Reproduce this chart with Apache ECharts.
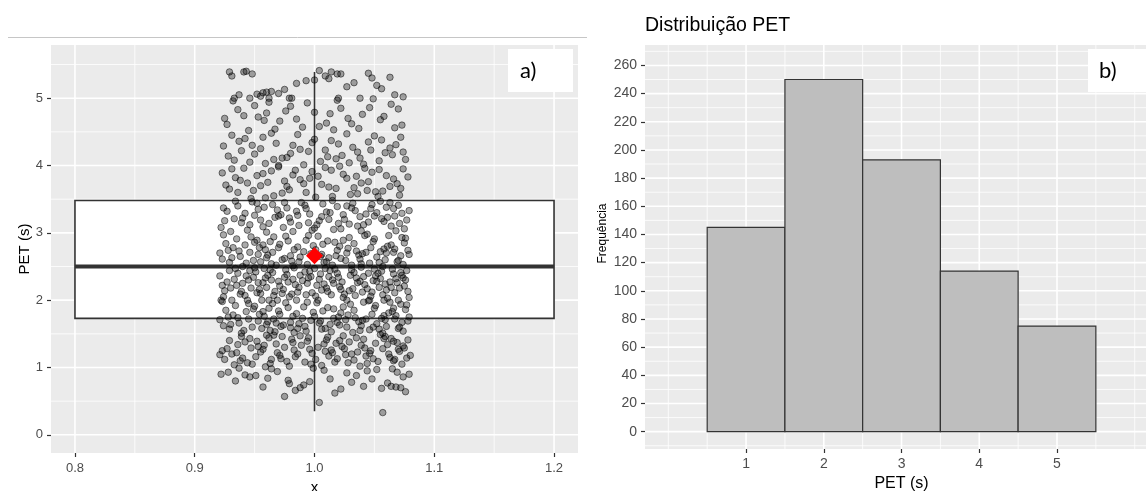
<!DOCTYPE html>
<html><head><meta charset="utf-8">
<script src="https://cdn.jsdelivr.net/npm/echarts@6/dist/echarts.min.js"></script>
<style>html,body{margin:0;padding:0;background:#fff}#c{width:1146px;height:491px}</style>
</head><body><div id="c"></div>
<script>
// ================= DATA =================
// Panel a) boxplot + jitter
const boxX = [0.8, 1.2];                              // box extent on x
const boxStats = [0.35, 1.73, 2.50, 3.48, 5.39];      // lower whisker, Q1, median, Q3, upper whisker
const meanPET = [1.0, 2.66];                          // red diamond (mean)
const xTicksA = [0.8, 0.9, 1.0, 1.1, 1.2];
const xTickLabelsA = ['0.8', '0.9', '1.0', '1.1', '1.2'];
const xMinorA = [0.85, 0.95, 1.05, 1.15];
const yTicksA = [0, 1, 2, 3, 4, 5];
const yMinorA = [0.5, 1.5, 2.5, 3.5, 4.5, 5.5];
const jitterPoints = [
[1.057,0.33],[1.004,0.48],
[0.922,0.90],[0.928,0.93],[0.942,0.89],[0.946,0.86],[0.951,0.88],[0.969,0.94],[0.978,0.81],[0.979,0.76],[0.984,0.66],[0.988,0.70],
[0.991,0.74],[0.996,0.79],[1.041,0.72],[1.048,0.83],[1.056,0.69],[1.061,0.77],[1.064,0.72],[1.068,0.71],[1.072,0.70],[1.074,0.86],
[1.069,0.93],[1.052,0.97],[1.035,0.88],[1.027,0.92],[1.013,0.83],[1.008,0.96],[0.964,0.98],[0.957,0.71],[0.937,0.99],[1.017,0.62],
[1.076,0.64],[0.975,0.57],[1.031,0.78],[0.999,0.99],[1.044,0.95],[0.934,0.80],[1.065,0.98],[1.022,0.68],[0.961,0.84],[1.079,0.90],
[0.925,1.12],[0.931,1.20],[0.944,1.07],[0.953,1.31],[0.962,1.44],[0.971,1.18],[0.983,1.26],[0.994,1.39],[1.006,1.03],[1.015,1.22],
[1.024,1.47],[1.033,1.11],[1.042,1.29],[1.051,1.36],[1.063,1.15],[1.071,1.24],[1.078,1.41],[0.921,1.19],[0.936,1.34],[0.948,1.05],
[0.957,1.27],[0.966,1.48],[0.977,1.09],[0.989,1.33],[0.998,1.21],[1.011,1.45],[1.019,1.13],[1.029,1.38],[1.038,1.02],[1.047,1.25],
[1.058,1.43],[1.066,1.10],[1.074,1.32],[0.927,1.28],[0.939,1.46],[0.951,1.16],[0.959,1.01],[0.968,1.35],[0.981,1.42],[0.992,1.08],
[1.003,1.30],[1.012,1.17],[1.021,1.40],[1.036,1.23],[1.044,1.06],[1.055,1.49],[1.062,1.20],[1.069,1.37],[1.077,1.14],[0.933,1.04],
[0.942,1.38],[0.955,1.23],[0.964,1.12],[0.973,1.46],[0.986,1.20],[0.996,1.27],[1.008,1.35],[1.017,1.08],[1.026,1.19],[1.035,1.44],
[1.049,1.13],[1.057,1.28],[1.066,1.39],[1.073,1.05],[0.923,1.25],[0.946,1.43],[0.958,1.33],[0.969,1.22],[0.979,1.02],[0.988,1.47],
[1.001,1.12],[1.014,1.26],[1.023,1.31],[1.031,1.20],[1.041,1.42],[1.053,1.09],[1.061,1.34],[1.070,1.27],[1.080,1.18],[0.929,1.40],
[0.940,1.14],[0.952,1.39],[0.963,1.06],[0.975,1.30],[0.984,1.16],[0.995,1.44],[1.009,1.24],[1.018,1.36],[1.028,1.07],[1.039,1.33],
[1.046,1.21],[1.059,1.46],[1.067,1.12],[1.075,1.29],[0.935,1.22],[0.947,1.29],[0.960,1.48],[0.972,1.13],[0.982,1.37],[0.997,1.05],
[1.010,1.41],[1.025,1.28],[1.043,1.17],[1.064,1.43],[0.938,1.10],
[0.924,1.62],[0.932,1.78],[0.941,1.55],[0.950,1.91],[0.961,1.68],[0.970,1.84],[0.980,1.59],[0.990,1.73],[1.002,1.96],[1.013,1.64],
[1.022,1.81],[1.032,1.52],[1.040,1.70],[1.050,1.88],[1.060,1.61],[1.068,1.77],[1.077,1.93],[0.926,1.85],[0.937,1.66],[0.945,1.72],
[0.956,1.58],[0.965,1.95],[0.974,1.63],[0.985,1.80],[0.993,1.54],[1.005,1.69],[1.016,1.87],[1.027,1.60],[1.034,1.74],[1.045,1.99],
[1.054,1.57],[1.065,1.83],[1.073,1.67],[0.921,1.71],[0.934,1.92],[0.948,1.60],[0.958,1.76],[0.967,1.53],[0.978,1.89],[0.987,1.65],
[0.999,1.82],[1.009,1.58],[1.020,1.75],[1.030,1.94],[1.039,1.62],[1.048,1.79],[1.057,1.51],[1.067,1.72],[1.076,1.86],[0.929,1.57],
[0.943,1.83],[0.953,1.69],[0.962,1.88],[0.972,1.61],[0.982,1.76],[0.994,1.97],[1.004,1.66],[1.014,1.53],[1.024,1.90],[1.037,1.68],
[1.046,1.56],[1.056,1.73],[1.063,1.97],[1.071,1.60],[1.079,1.75],[0.923,1.98],[0.936,1.74],[0.949,1.87],[0.960,1.64],[0.971,1.79],
[0.983,1.52],[0.997,1.70],[1.007,1.84],[1.019,1.67],[1.028,1.78],[1.038,1.55],[1.051,1.92],[1.059,1.71],[1.070,1.58],[1.078,1.69],
[0.930,1.64],[0.939,1.51],[0.954,1.79],[0.966,1.72],[0.976,1.96],[0.986,1.58],[1.000,1.76],[1.011,1.89],[1.021,1.63],[1.033,1.85],
[1.043,1.72],[1.052,1.65],[1.062,1.81],[1.072,1.94],[0.928,1.75],[0.945,1.95],[0.963,1.55],[0.980,1.67],[0.991,1.90],[1.006,1.57],
[1.026,1.71],[1.041,1.97],[1.058,1.77],[1.074,1.54],[0.957,1.83],[0.968,1.66],[0.992,1.61],[1.016,1.73],[1.049,1.60],[1.066,1.88],
[0.922,2.00],[0.931,2.00],[0.944,2.00],[0.956,2.00],[0.962,2.00],[0.969,2.00],[0.985,2.00],[1.003,2.00],[1.027,2.00],[1.046,2.00],
[1.058,2.00],[1.070,2.00],[0.925,2.14],[0.933,2.31],[0.942,2.07],[0.951,2.42],[0.960,2.19],[0.970,2.28],[0.979,2.05],[0.988,2.37],
[0.998,2.11],[1.008,2.24],[1.017,2.46],[1.025,2.09],[1.035,2.33],[1.044,2.17],[1.053,2.40],[1.061,2.03],[1.069,2.26],[1.078,2.13],
[0.921,2.36],[0.935,2.22],[0.946,2.44],[0.955,2.10],[0.964,2.30],[0.974,2.16],[0.983,2.48],[0.994,2.25],[1.001,2.06],[1.012,2.35],
[1.021,2.20],[1.031,2.45],[1.040,2.12],[1.049,2.29],[1.057,2.08],[1.066,2.39],[1.075,2.21],[0.927,2.27],[0.938,2.09],[0.949,2.34],
[0.958,2.47],[0.967,2.13],[0.977,2.38],[0.987,2.19],[0.996,2.43],[1.006,2.15],[1.015,2.30],[1.024,2.04],[1.033,2.41],[1.042,2.23],
[1.051,2.36],[1.060,2.15],[1.068,2.32],[1.077,2.44],[0.924,2.05],[0.936,2.40],[0.947,2.18],[0.957,2.26],[0.966,2.07],[0.976,2.45],
[0.986,2.12],[0.995,2.33],[1.005,2.39],[1.014,2.08],[1.023,2.27],[1.032,2.17],[1.041,2.35],[1.050,2.46],[1.059,2.24],[1.067,2.11],
[1.076,2.30],[0.929,2.44],[0.940,2.25],[0.952,2.11],[0.961,2.37],[0.971,2.21],[0.981,2.09],[0.990,2.29],[1.000,2.47],[1.010,2.18],
[1.019,2.40],[1.029,2.14],[1.038,2.28],[1.047,2.06],[1.056,2.43],[1.064,2.19],[1.073,2.37],[0.923,2.22],[0.934,2.47],[0.945,2.30],
[0.954,2.16],[0.965,2.41],[0.975,2.34],[0.984,2.23],[0.993,2.08],[1.004,2.31],[1.013,2.44],[1.022,2.16],[1.030,2.37],[1.039,2.49],
[1.048,2.12],[1.055,2.32],[1.063,2.27],[1.071,2.18],[1.079,2.04],[0.930,2.18],[0.943,2.36],[0.953,2.26],[0.963,2.45],[0.973,2.10],
[0.982,2.31],[0.992,2.42],[1.002,2.22],[1.011,2.13],[1.020,2.34],[1.036,2.26],[1.045,2.40],[1.054,2.19],[1.065,2.46],[1.074,2.33],
[0.939,2.13],[0.959,2.33],[0.978,2.27],[0.997,2.35],[1.016,2.25],[1.034,2.07],[1.052,2.28],[1.072,2.41],[0.950,2.48],[1.009,2.47],
[0.923,2.61],[0.932,2.78],[0.943,2.55],[0.952,2.89],[0.961,2.67],[0.971,2.83],[0.981,2.58],[0.991,2.72],[1.003,2.95],[1.012,2.63],
[1.021,2.80],[1.031,2.52],[1.040,2.69],[1.049,2.87],[1.059,2.60],[1.067,2.76],[1.076,2.92],[0.926,2.84],[0.938,2.65],[0.946,2.71],
[0.955,2.57],[0.966,2.94],[0.975,2.62],[0.986,2.79],[0.994,2.53],[1.006,2.68],[1.017,2.86],[1.026,2.59],[1.035,2.73],[1.044,2.98],
[1.054,2.56],[1.064,2.82],[1.072,2.66],[0.921,2.70],[0.935,2.91],[0.949,2.59],[0.959,2.75],[0.968,2.52],[0.978,2.88],[0.988,2.64],
[0.999,2.81],[1.010,2.57],[1.019,2.74],[1.029,2.93],[1.038,2.61],[1.047,2.78],[1.057,2.50],[1.066,2.71],[1.075,2.85],[0.929,2.56],
[0.942,2.82],[0.953,2.68],[0.963,2.87],[0.973,2.60],[0.983,2.75],[0.995,2.96],[1.005,2.65],[1.015,2.52],[1.024,2.89],[1.037,2.67],
[1.046,2.55],[1.055,2.72],[1.062,2.96],[1.070,2.59],[1.078,2.74],[0.924,2.97],[0.937,2.73],[0.950,2.86],[0.960,2.63],[0.970,2.78],
[0.982,2.51],[0.997,2.69],[1.007,2.83],[1.018,2.66],[1.028,2.77],[1.039,2.54],[1.050,2.91],[1.060,2.70],[1.069,2.57],[1.079,2.68],
[0.931,2.63],[0.940,2.50],[0.954,2.78],[0.965,2.71],[0.976,2.95],[0.987,2.57],[1.001,2.75],[1.011,2.88],[1.022,2.62],[1.033,2.84],
[1.043,2.71],[1.052,2.64],[1.061,2.80],[1.073,2.93],[0.928,2.74],[0.947,2.94],[0.964,2.54],[0.980,2.66],[0.993,2.89],[1.008,2.56],
[1.027,2.70],[1.042,2.96],[1.058,2.76],[1.074,2.53],[0.957,2.82],
[0.922,3.08],[0.933,3.21],[0.944,3.04],[0.953,3.35],[0.962,3.14],[0.972,3.27],[0.982,3.02],[0.992,3.41],[1.004,3.18],[1.013,3.30],
[1.022,3.06],[1.032,3.44],[1.041,3.12],[1.050,3.25],[1.060,3.38],[1.068,3.03],[1.077,3.19],[0.927,3.32],[0.939,3.15],[0.948,3.46],
[0.957,3.09],[0.967,3.23],[0.977,3.37],[0.987,3.11],[0.996,3.28],[1.007,3.43],[1.016,3.05],[1.025,3.20],[1.034,3.33],[1.045,3.16],
[1.055,3.47],[1.064,3.10],[1.073,3.29],[0.925,3.18],[0.936,3.40],[0.950,3.26],[0.960,3.01],[0.969,3.34],[0.979,3.22],[0.989,3.45],
[1.000,3.07],[1.010,3.31],[1.019,3.39],[1.029,3.13],[1.038,3.24],[1.048,3.42],[1.058,3.17],[1.066,3.36],[1.075,3.06],[0.930,3.02],
[0.942,3.29],[0.955,3.19],[0.965,3.42],[0.974,3.08],[0.985,3.32],[0.995,3.15],[1.006,3.24],[1.015,3.48],[1.024,3.27],[1.036,3.10],
[1.047,3.36],[1.056,3.21],[1.063,3.45],[1.071,3.14],[1.079,3.33],[0.934,3.47],[0.946,3.12],[0.958,3.38],[0.970,3.25],[0.980,3.16],
[0.993,3.36],[1.002,3.12],[1.012,3.20],[1.027,3.40],[1.039,3.03],[1.052,3.30],[1.061,3.23],[1.070,3.41],[0.924,3.37],[0.952,3.44],
[0.975,3.45],[0.998,3.04],[1.020,3.14],[1.043,3.28],[1.067,3.25],[0.940,3.22],[0.986,3.26],[1.031,3.37],
[0.926,3.71],[0.934,3.82],[0.941,3.96],[0.949,3.63],[0.957,3.88],[0.966,3.55],[0.975,3.77],[0.984,3.93],[0.993,3.60],[1.003,3.84],
[1.012,3.68],[1.021,3.99],[1.030,3.57],[1.039,3.74],[1.048,3.90],[1.057,3.62],[1.066,3.80],[1.074,3.95],[0.929,3.65],[0.938,3.78],
[0.947,3.51],[0.955,3.70],[0.964,3.92],[0.973,3.59],[0.982,3.86],[0.991,3.73],[1.001,3.53],[1.009,3.97],[1.018,3.66],[1.027,3.81],
[1.036,3.58],[1.045,3.76],[1.054,3.94],[1.063,3.69],[1.071,3.56],[1.078,3.83],[0.923,3.89],[0.936,3.60],[0.952,3.85],[0.961,3.75],
[0.970,3.98],[0.979,3.64],[0.988,3.79],[0.998,3.91],[1.006,3.72],[1.015,3.54],[1.024,3.87],[1.033,3.67],[1.042,3.96],[1.051,3.61],
[1.060,3.85],[1.069,3.73],[0.944,3.74],[0.959,3.52],[0.977,3.69],[0.996,3.81],[1.014,3.93],[1.035,3.84],[1.053,3.54],[1.072,3.66],
[0.931,3.95],[1.044,3.63],
[0.924,4.29],[0.933,4.08],[0.942,4.40],[0.950,4.17],[0.959,4.03],[0.968,4.33],[0.977,4.12],[0.986,4.46],[0.995,4.21],[1.005,4.06],
[1.014,4.37],[1.023,4.15],[1.032,4.27],[1.041,4.02],[1.050,4.44],[1.059,4.19],[1.068,4.31],[1.076,4.09],[0.928,4.14],[0.937,4.36],
[0.946,4.05],[0.955,4.25],[0.964,4.48],[0.973,4.11],[0.982,4.30],[0.991,4.01],[1.000,4.39],[1.009,4.23],[1.018,4.10],[1.027,4.47],
[1.036,4.20],[1.045,4.35],[1.054,4.07],[1.063,4.26],[1.072,4.42],[0.939,4.22],[0.957,4.42],[0.970,4.00],[0.980,4.18],[0.998,4.34],
[1.011,4.13],[1.029,4.04],[1.047,4.23],[1.065,4.16],[0.948,4.30],[0.966,4.09],[0.988,4.24],[1.020,4.32],[1.038,4.11],[1.056,4.38],
[1.074,4.20],[0.931,4.45],
[0.927,4.61],[0.936,4.83],[0.945,4.52],[0.953,4.72],[0.962,4.94],[0.971,4.66],[0.980,4.88],[0.990,4.57],[1.000,4.79],[1.010,4.63],
[1.019,4.97],[1.028,4.70],[1.037,4.55],[1.046,4.86],[1.055,4.68],[1.064,4.91],[1.073,4.60],[0.932,4.96],[0.941,4.74],[0.950,4.89],
[0.958,4.67],[0.967,4.54],[0.976,4.81],[0.985,4.69],[0.994,4.93],[1.004,4.58],[1.013,4.77],[1.022,4.85],[1.031,4.62],[1.040,4.76],
[1.049,4.99],[1.058,4.73],[1.067,4.56],[0.925,4.70],[0.960,4.78],[1.016,4.53],[1.070,4.84],
[0.933,5.00],[0.946,5.00],[0.962,5.00],[0.979,5.00],[0.981,5.00],[1.020,5.00],[1.038,5.00],[0.929,5.39],[0.931,5.33],[0.941,5.39],
[0.943,5.40],[0.948,5.36],[0.955,5.03],[0.957,5.08],[0.952,5.06],[0.960,5.09],[0.964,5.10],[0.970,5.07],[0.985,5.22],[1.004,5.41],
[1.014,5.39],[1.019,5.36],[1.022,5.36],[1.009,5.33],[1.012,5.29],[1.000,5.27],[0.993,5.26],[1.027,5.17],[1.045,5.37],[1.048,5.30],
[1.056,5.14],[1.063,5.31],[1.067,5.05],[1.074,5.02],[0.937,5.05],[0.975,5.13],[1.033,5.23],[1.052,5.19]
];

// Panel b) histogram
const histBins = [1, 2, 3, 4, 5];           // bin centres (PET, s)
const histCounts = [145, 250, 193, 114, 75];
const binWidth = 1;
const xTicksB = [1, 2, 3, 4, 5];
const xMinorB = [0, 0.5, 1.5, 2.5, 3.5, 4.5, 5.5, 6];
const yTicksB = [0, 20, 40, 60, 80, 100, 120, 140, 160, 180, 200, 220, 240, 260];
const yMinorB = [-10, 10, 30, 50, 70, 90, 110, 130, 150, 170, 190, 210, 230, 250, 270];

// ================= CHART =================
const FONT = 'Liberation Sans, Arial, sans-serif';
const chart = echarts.init(document.getElementById('c'), null, {renderer: 'canvas'});

function vLines(xi, yi, vals, w, yRef) {
  return {type: 'custom', xAxisIndex: xi, yAxisIndex: yi, z: 1, silent: true,
    data: vals.map(v => [v, yRef]),
    renderItem: (params, api) => {
      const cs = params.coordSys;
      const p = api.coord([api.value(0), api.value(1)]);
      return {type: 'line', shape: {x1: p[0], y1: cs.y, x2: p[0], y2: cs.y + cs.height},
        style: {stroke: '#ffffff', lineWidth: w}};
    }};
}
function hLines(xi, yi, vals, w, xRef) {
  return {type: 'custom', xAxisIndex: xi, yAxisIndex: yi, z: 1, silent: true,
    data: vals.map(v => [xRef, v]),
    renderItem: (params, api) => {
      const cs = params.coordSys;
      const p = api.coord([api.value(0), api.value(1)]);
      return {type: 'line', shape: {x1: cs.x, y1: p[1], x2: cs.x + cs.width, y2: p[1]},
        style: {stroke: '#ffffff', lineWidth: w}};
    }};
}

const tickStyle = {show: true, length: 4, lineStyle: {color: '#333333', width: 1.2}};
const lineOff = {show: false, onZero: false};
const MAJ = 1.6, MIN = 0.8;

const option = {
  animation: false,
  backgroundColor: '#ffffff',
  grid: [
    {left: 51, top: 45, width: 527, height: 408, show: true, backgroundColor: '#EBEBEB', borderWidth: 0,
      containLabel: false, outerBoundsMode: 'none'},
    {left: 645, top: 45, width: 501, height: 404, show: true, backgroundColor: '#EBEBEB', borderWidth: 0,
      containLabel: false, outerBoundsMode: 'none'}
  ],
  xAxis: [
    {type: 'value', gridIndex: 0, min: 0.78, max: 1.22, position: 'bottom',
      axisLine: lineOff, splitLine: {show: false},
      axisTick: Object.assign({customValues: xTicksA}, tickStyle),
      axisLabel: {customValues: xTicksA, color: '#4D4D4D', fontSize: 13, fontFamily: FONT, margin: 9,
        formatter: v => xTickLabelsA[xTicksA.findIndex(t => Math.abs(t - v) < 1e-9)]},
      name: 'x', nameLocation: 'middle', nameGap: 22,
      nameTextStyle: {color: '#000', fontSize: 15, fontFamily: FONT}},
    {type: 'value', gridIndex: 1, min: -0.3, max: 6.145, position: 'bottom',
      axisLine: lineOff, splitLine: {show: false},
      axisTick: Object.assign({customValues: xTicksB}, tickStyle),
      axisLabel: {customValues: xTicksB, color: '#4D4D4D', fontSize: 14, fontFamily: FONT, margin: 8},
      name: 'PET (s)', nameLocation: 'middle', nameGap: 26,
      nameTextStyle: {color: '#000', fontSize: 16, fontFamily: FONT, padding: [0, 0, 0, 12]}}
  ],
  yAxis: [
    {type: 'value', gridIndex: 0, min: -0.27, max: 5.79, position: 'left',
      axisLine: lineOff, splitLine: {show: false},
      axisTick: Object.assign({customValues: yTicksA}, tickStyle),
      axisLabel: {customValues: yTicksA, color: '#4D4D4D', fontSize: 13, fontFamily: FONT, margin: 8},
      name: 'PET (s)', nameLocation: 'middle', nameGap: 17,
      nameTextStyle: {color: '#000', fontSize: 15, fontFamily: FONT}},
    {type: 'value', gridIndex: 1, min: -12.3, max: 274.5, position: 'left',
      axisLine: lineOff, splitLine: {show: false},
      axisTick: Object.assign({customValues: yTicksB}, tickStyle),
      axisLabel: {customValues: yTicksB, color: '#4D4D4D', fontSize: 14, fontFamily: FONT, margin: 8}}
  ],
  series: [
    vLines(0, 0, xMinorA, MIN, 1), vLines(0, 0, xTicksA, MAJ, 1),
    hLines(0, 0, yMinorA, MIN, 1), hLines(0, 0, yTicksA, MAJ, 1),
    vLines(1, 1, xMinorB, MIN, 0), vLines(1, 1, xTicksB, MAJ, 0),
    hLines(1, 1, yMinorB, MIN, 1), hLines(1, 1, yTicksB, MAJ, 1),
    // boxplot
    {type: 'custom', xAxisIndex: 0, yAxisIndex: 0, z: 2, silent: true,
      data: [[boxX[0], boxX[1]].concat(boxStats)],
      renderItem: (params, api) => {
        const x0 = api.value(0), x1 = api.value(1);
        const lo = api.value(2), q1 = api.value(3), med = api.value(4), q3 = api.value(5), hi = api.value(6);
        const xm = (x0 + x1) / 2;
        const tl = api.coord([x0, q3]), br = api.coord([x1, q1]);
        const m0 = api.coord([x0, med]), m1 = api.coord([x1, med]);
        const wHi = api.coord([xm, hi]), wQ3 = api.coord([xm, q3]), wQ1 = api.coord([xm, q1]), wLo = api.coord([xm, lo]);
        const ls = {stroke: '#333333', lineWidth: 1.6};
        return {type: 'group', children: [
          {type: 'line', shape: {x1: wHi[0], y1: wHi[1], x2: wQ3[0], y2: wQ3[1]}, style: ls},
          {type: 'line', shape: {x1: wQ1[0], y1: wQ1[1], x2: wLo[0], y2: wLo[1]}, style: ls},
          {type: 'rect', shape: {x: tl[0], y: tl[1], width: br[0] - tl[0], height: br[1] - tl[1]},
            style: {fill: '#ffffff', stroke: '#333333', lineWidth: 1.6}},
          {type: 'line', shape: {x1: m0[0], y1: m0[1], x2: m1[0], y2: m1[1]}, style: {stroke: '#333333', lineWidth: 3.8}}
        ]};
      }},
    // jittered points
    {type: 'scatter', xAxisIndex: 0, yAxisIndex: 0, z: 3, silent: true,
      data: jitterPoints, symbol: 'circle', symbolSize: 6.5,
      itemStyle: {color: 'rgba(0,0,0,0.42)', borderColor: 'rgba(0,0,0,0.7)', borderWidth: 0.9}},
    // mean
    {type: 'scatter', xAxisIndex: 0, yAxisIndex: 0, z: 5, silent: true,
      data: [meanPET], symbol: 'diamond', symbolSize: [17, 17],
      itemStyle: {color: '#FF0000', opacity: 1}},
    // histogram
    {type: 'custom', xAxisIndex: 1, yAxisIndex: 1, z: 2, silent: true,
      data: histBins.map((c, i) => [c, histCounts[i]]),
      renderItem: (params, api) => {
        const c = api.value(0), n = api.value(1);
        const a = api.coord([c - binWidth / 2, n]), b = api.coord([c + binWidth / 2, 0]);
        return {type: 'rect', shape: {x: a[0], y: a[1], width: b[0] - a[0], height: b[1] - a[1]},
          style: {fill: '#BEBEBE', stroke: '#333333', lineWidth: 1.2}};
      }}
  ],
  graphic: {elements: [
    {type: 'line', shape: {x1: 8, y1: 37.5, x2: 587, y2: 37.5}, style: {stroke: '#C6C6C6', lineWidth: 1}, z: 10},
    {type: 'rect', shape: {x: 508, y: 49, width: 65, height: 43}, style: {fill: '#ffffff'}, z: 10},
    {type: 'text', x: 520, y: 71, style: {text: 'a)', font: '22px Lato, sans-serif', fill: '#000', verticalAlign: 'middle'}, z: 11},
    {type: 'rect', shape: {x: 1088, y: 49, width: 60, height: 43}, style: {fill: '#ffffff'}, z: 10},
    {type: 'text', x: 1099, y: 71, style: {text: 'b)', font: '22px Lato, sans-serif', fill: '#000', verticalAlign: 'middle'}, z: 11},
    {type: 'text', x: 645, y: 26, style: {text: 'Distribuição PET', font: '19.5px ' + FONT, fill: '#000', verticalAlign: 'middle'}, z: 11},
    {type: 'text', x: 603, y: 233.5, rotation: Math.PI / 2,
      style: {text: 'Frequência', font: '12px ' + FONT, fill: '#000', align: 'center', verticalAlign: 'middle'}, z: 11}
  ]}
};
chart.setOption(option);
</script></body></html>
